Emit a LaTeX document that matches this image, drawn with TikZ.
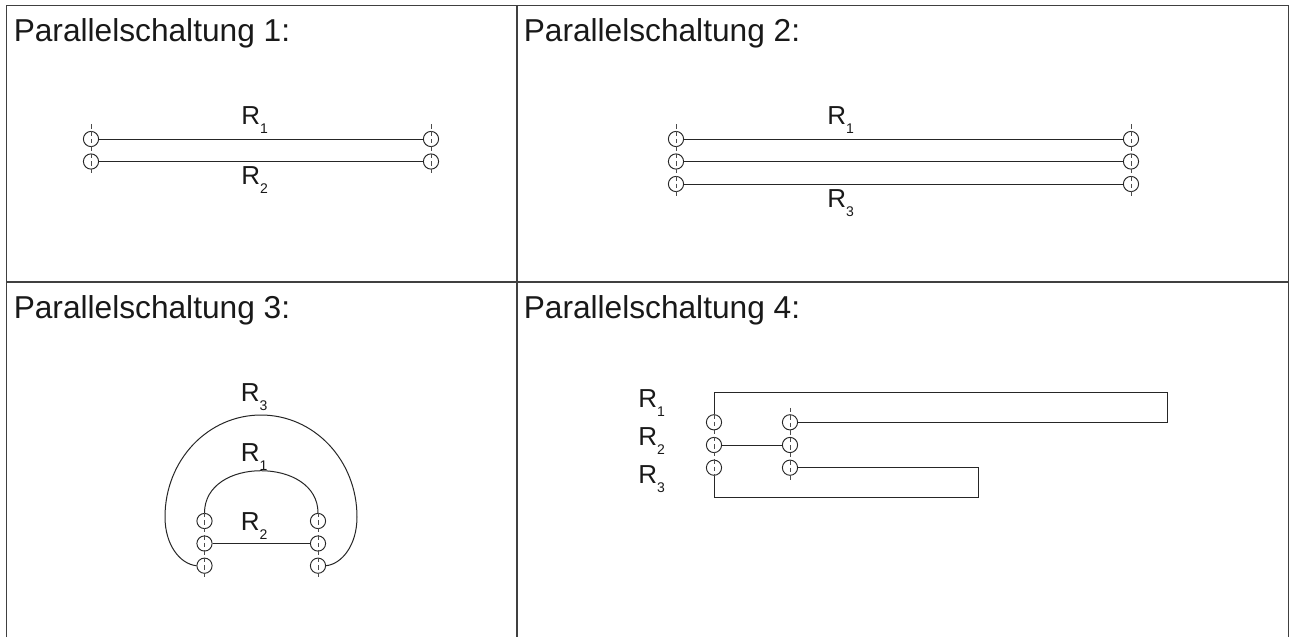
\documentclass[tikz,border=0pt]{standalone}
\usepackage{fontspec}
\setmainfont{Liberation Sans}
\usetikzlibrary{calc}
\newcommand{\Rlab}[1]{R\raisebox{-6.75pt}{\fontsize{10.5pt}{12pt}\selectfont #1}}
\tikzset{
  frameline/.style={draw=black!75,line width=1.0pt},
  wire/.style={draw=black!85,line width=0.75pt},
  axisline/.style={draw=black!70,line width=0.6pt,dash pattern=on 3.4pt off 2.2pt},
  term/.style={circle,draw=black!85,line width=0.7pt,minimum size=11.4pt,inner sep=0pt},
  titletext/.style={anchor=base west,inner sep=0pt,font=\fontsize{23.75pt}{28pt}\selectfont,text=black!90},
  rtext/.style={anchor=base west,inner sep=0pt,font=\fontsize{19.5pt}{22pt}\selectfont,text=black!90},
}
\begin{document}
\begin{tikzpicture}[x=0.75pt,y=-0.75pt]
\useasboundingbox (0,0) rectangle (1296,637);
\fill[white] (0,0) rectangle (1296,637);
% frame
\coordinate (fTL) at (6.5,5.5);
\coordinate (fTR) at (1288.5,5.5);
\coordinate (fBL) at (6.5,637);
\coordinate (fBR) at (1288.5,637);
\coordinate (mT) at (517,5.5);
\coordinate (mB) at (517,637);
\coordinate (hL) at (6.5,282);
\coordinate (hR) at (1288.5,282);
\draw[frameline] (fBL) -- (fTL) -- (fTR) -- (fBR);
\draw[frameline] (mT) -- (mB);
\draw[frameline] (hL) -- (hR);
% titles
\node[titletext] (t1) at (13.5,41.7) {Parallelschaltung 1:};
\node[titletext] (t2) at (523.5,41.7) {Parallelschaltung 2:};
\node[titletext] (t3) at (13.5,318.3) {Parallelschaltung 3:};
\node[titletext] (t4) at (523.5,318.3) {Parallelschaltung 4:};
% panel 1
\node[term] (a1) at (91,139) {};
\node[term] (a2) at (91,161.5) {};
\node[term] (b1) at (431,139) {};
\node[term] (b2) at (431,161.5) {};
\draw[wire] (a1) -- (b1);
\draw[wire] (a2) -- (b2);
\draw[axisline] ($(a1)+(0,-15)$) -- ($(a2)+(0,12)$);
\draw[axisline] ($(b1)+(0,-15)$) -- ($(b2)+(0,12)$);
\node[rtext] (ra1) at (241,124.5) {\Rlab{1}};
\node[rtext] (ra2) at (241,184) {\Rlab{2}};
% panel 2
\node[term] (c1) at (676,139) {};
\node[term] (c2) at (676,161.5) {};
\node[term] (c3) at (676,184) {};
\node[term] (d1) at (1131,139) {};
\node[term] (d2) at (1131,161.5) {};
\node[term] (d3) at (1131,184) {};
\draw[wire] (c1) -- (d1);
\draw[wire] (c2) -- (d2);
\draw[wire] (c3) -- (d3);
\draw[axisline] ($(c1)+(0,-15)$) -- ($(c3)+(0,13)$);
\draw[axisline] ($(d1)+(0,-15)$) -- ($(d3)+(0,13)$);
\node[rtext] (rb1) at (827,124.5) {\Rlab{1}};
\node[rtext] (rb3) at (827,207.5) {\Rlab{3}};
% panel 3
\node[term] (e1) at (204.5,521) {};
\node[term] (e2) at (204.5,543.5) {};
\node[term] (e3) at (204.5,565.7) {};
\node[term] (f1) at (318,521) {};
\node[term] (f2) at (318,543.5) {};
\node[term] (f3) at (318,565.7) {};
\draw[wire] (e2) -- (f2);
\draw[wire] (e1.north) .. controls (204.5,485) and (232,470.7) .. (261,470.7)
   .. controls (290,470.7) and (318,485) .. (f1.north);
\draw[wire] (e3.west) .. controls (180,564) and (165,545) .. (165,517)
   .. controls (165,460) and (208,415) .. (261,415)
   .. controls (314,415) and (357,460) .. (357,517)
   .. controls (357,545) and (342,564) .. (f3.east);
\draw[axisline] (e1.north) -- ($(e3)+(0,13)$);
\draw[axisline] (f1.north) -- ($(f3)+(0,13)$);
\node[rtext] (rc3) at (240.5,401) {\Rlab{3}};
\node[rtext] (rc1) at (240.5,461) {\Rlab{1}};
\node[rtext] (rc2) at (240.5,530) {\Rlab{2}};
% panel 4
\node[term] (g1) at (714,422.3) {};
\node[term] (g2) at (714,445) {};
\node[term] (g3) at (714,467.7) {};
\node[term] (h1) at (790,422.3) {};
\node[term] (h2) at (790,445) {};
\node[term] (h3) at (790,467.7) {};
\coordinate (p1) at (714,392.3);
\coordinate (p2) at (1167,392.3);
\coordinate (p3) at (1167,422.3);
\coordinate (q1) at (714,497);
\coordinate (q2) at (978,497);
\coordinate (q3) at (978,467.7);
\draw[wire] (g1.north) -- (p1) -- (p2) -- (p3) -- (h1.east);
\draw[wire] (g2) -- (h2);
\draw[wire] (g3.south) -- (q1) -- (q2) -- (q3) -- (h3.east);
\draw[axisline] (g1.north) -- (g3.south);
\draw[axisline] ($(h1)+(0,-14.5)$) -- ($(h3)+(0,13.5)$);
\node[rtext] (rd1) at (638,407.7) {\Rlab{1}};
\node[rtext] (rd2) at (638,445) {\Rlab{2}};
\node[rtext] (rd3) at (638,483) {\Rlab{3}};
\end{tikzpicture}
\end{document}
